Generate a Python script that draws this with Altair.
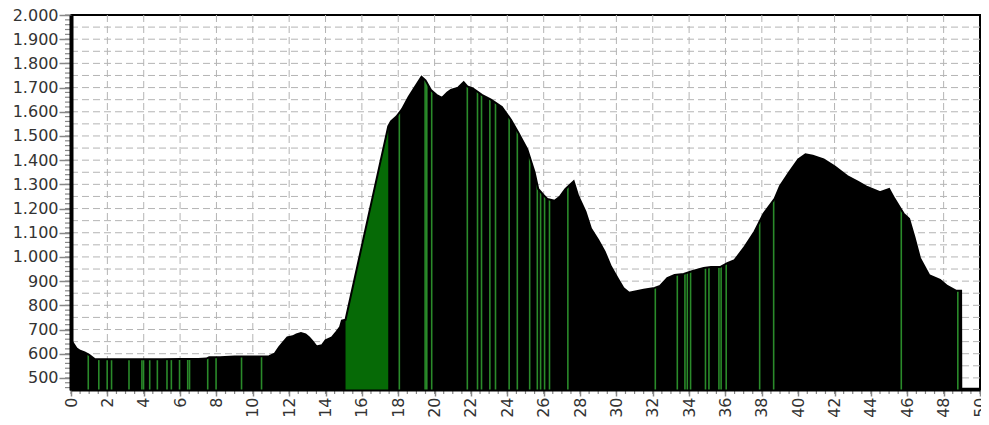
import altair as alt
import pandas as pd
import numpy as np

# Elevation profile (km, metres)
km = [0, 0.15, 0.3, 0.5, 0.75, 1.0, 1.3, 2, 3, 4, 5, 6, 7, 7.45, 7.6, 8.2, 9, 10, 10.9,
      11.2, 11.45, 11.7, 11.9, 12.2, 12.4, 12.65, 12.9, 13.1, 13.3, 13.5, 13.8, 14.0,
      14.35, 14.6, 14.8, 14.9, 15.1, 17.45, 17.6, 17.9, 18.2, 18.57, 18.9, 19.28, 19.5,
      19.8, 20.1, 20.4, 20.7, 20.9, 21.3, 21.6, 21.8, 22.1, 22.6, 23.1, 23.7, 24.2, 24.6,
      25.1, 25.5, 25.7, 26.0, 26.2, 26.6, 26.9, 27.2, 27.65, 27.9, 28.3, 28.6, 29.0,
      29.35, 29.7, 30.06, 30.4, 30.7, 31.1, 31.5, 32.1, 32.4, 32.8, 33.2, 33.7, 34.2,
      34.8, 35.2, 35.7, 36.1, 36.5, 37.0, 37.6, 38.1, 38.7, 39.0, 39.5, 40.0, 40.4, 40.8,
      41.4, 42.0, 42.7, 43.3, 43.8, 44.5, 45.0, 45.3, 45.8, 46.1, 46.4, 46.7, 47.2, 47.8,
      48.2, 48.7, 48.96, 48.97, 50]
elev = [655, 640, 622, 612, 605, 595, 578, 577, 577, 577, 577, 578, 578, 580, 585, 585,
        588, 588, 590, 600, 627, 650, 667, 672, 680, 685, 680, 667, 650, 630, 635, 655,
        667, 690, 710, 737, 740, 1540, 1560, 1580, 1610, 1661, 1700, 1745, 1730, 1690,
        1670, 1657, 1680, 1690, 1700, 1722, 1705, 1697, 1670, 1650, 1620, 1567, 1514,
        1444, 1350, 1281, 1255, 1240, 1232, 1250, 1281, 1313, 1252, 1187, 1117, 1070,
        1023, 960, 913, 870, 852, 858, 864, 872, 880, 913, 925, 930, 942, 954, 958, 958,
        974, 987, 1036, 1105, 1179, 1240, 1293, 1350, 1403, 1424, 1418, 1403, 1375, 1334,
        1310, 1289, 1268, 1281, 1240, 1179, 1158, 1080, 995, 925, 905, 880, 860, 860,
        455, 455]

# Highlighted (green) climb segment
green_start = 15.1
green_end = 17.45

# Waypoint markers (km)
marker_km = [0.95, 1.53, 1.99, 2.23, 3.19, 3.9, 3.99, 4.33, 4.75, 5.28, 5.52, 5.97, 6.42,
             6.52, 7.52, 7.98, 9.38, 10.48, 18.06, 19.48, 19.57, 19.84, 21.80, 22.36,
             22.58, 23.04, 23.35, 24.10, 24.55, 25.23, 25.65, 25.83, 26.05, 26.32, 27.33,
             32.14, 33.35, 33.77, 33.9, 34.08, 34.9, 35.09, 35.64, 35.76, 36.04, 37.88,
             38.65, 45.67, 48.78]

y_ticks = list(range(500, 2001, 100))
x_ticks = list(range(0, 51, 2))
y_grid = list(range(500, 2000, 50))
x_grid = list(range(2, 50, 2))
x_minor = [i * 0.5 for i in range(0, 101)]
y_minor = list(range(460, 2001, 20))

prof = pd.DataFrame({"km": km, "elev": elev})
green = prof[(prof.km >= green_start) & (prof.km <= green_end)]
markers = pd.DataFrame({"km": marker_km, "top": np.interp(marker_km, km, elev)})

xs = alt.Scale(domain=[0, 50], nice=False, zero=False)
ys = alt.Scale(domain=[450, 2000], nice=False, zero=False)

FONT = "DejaVu Sans"
H = 375

x_axis = alt.Axis(values=x_ticks, labelAngle=-90, labelFont=FONT, labelFontSize=16,
                  labelColor="#333333", tickSize=6, tickColor="#888888", tickWidth=1.5,
                  labelPadding=1, domainColor="#000000", domainWidth=2,
                  title="", zindex=1, labelOverlap=False, grid=False)
y_axis = alt.Axis(values=y_ticks, labelExpr="replace(format(datum.value, ','), ',', '.')",
                  labelFont=FONT, labelFontSize=16, labelColor="#333333", tickSize=12,
                  tickColor="#888888", tickWidth=1.5, labelPadding=1,
                  domainColor="#000000", domainWidth=4, title="", zindex=1,
                  labelOverlap=False, grid=False, labelFlush=False)


def X(f):
    return alt.X(f, scale=xs, axis=x_axis)


def Y(f):
    return alt.Y(f, scale=ys, axis=y_axis)


hgrid = alt.Chart(pd.DataFrame({"v": y_grid})).mark_rule(
    color="#b4b4b4", strokeDash=[7, 4], strokeWidth=1
).encode(y=Y("v:Q"))

vgrid = alt.Chart(pd.DataFrame({"v": x_grid})).mark_rule(
    color="#b4b4b4", strokeDash=[7, 4], strokeWidth=1
).encode(x=X("v:Q"))

area = alt.Chart(prof).mark_area(color="#000000", interpolate="linear").encode(
    x=X("km:Q"), y=Y("elev:Q"), y2=alt.datum(450),
)

green_area = alt.Chart(green).mark_area(color="#066a06").encode(
    x=X("km:Q"), y=Y("elev:Q"), y2=alt.datum(450),
)

marker_rules = alt.Chart(markers).mark_rule(color="#2a8a2a", strokeWidth=1.6).encode(
    x=X("km:Q"), y=Y("top:Q"), y2=alt.datum(450),
)

outline = alt.Chart(prof).mark_line(color="#000000", strokeWidth=2).encode(
    x=X("km:Q"), y=Y("elev:Q"),
)

xminor = alt.Chart(pd.DataFrame({"v": x_minor})).mark_rule(
    color="#888888", strokeWidth=1.2
).encode(x=X("v:Q"), y=alt.value(H), y2=alt.value(H + 4))

yminor = alt.Chart(pd.DataFrame({"v": y_minor})).mark_rule(
    color="#888888", strokeWidth=1.2
).encode(y=Y("v:Q"), x=alt.value(-6), x2=alt.value(0))

chart = alt.layer(
    hgrid, vgrid, area, green_area, marker_rules, outline, xminor, yminor
).properties(
    width=909,
    height=H,
    autosize=alt.AutoSizeParams(type="none"),
    padding={"left": 63, "top": 7, "right": 1, "bottom": 27},
    background="#ffffff",
).configure_view(stroke="#000000", strokeWidth=2)

chart.save("out.html", embed_options={"renderer": "svg", "actions": False})
